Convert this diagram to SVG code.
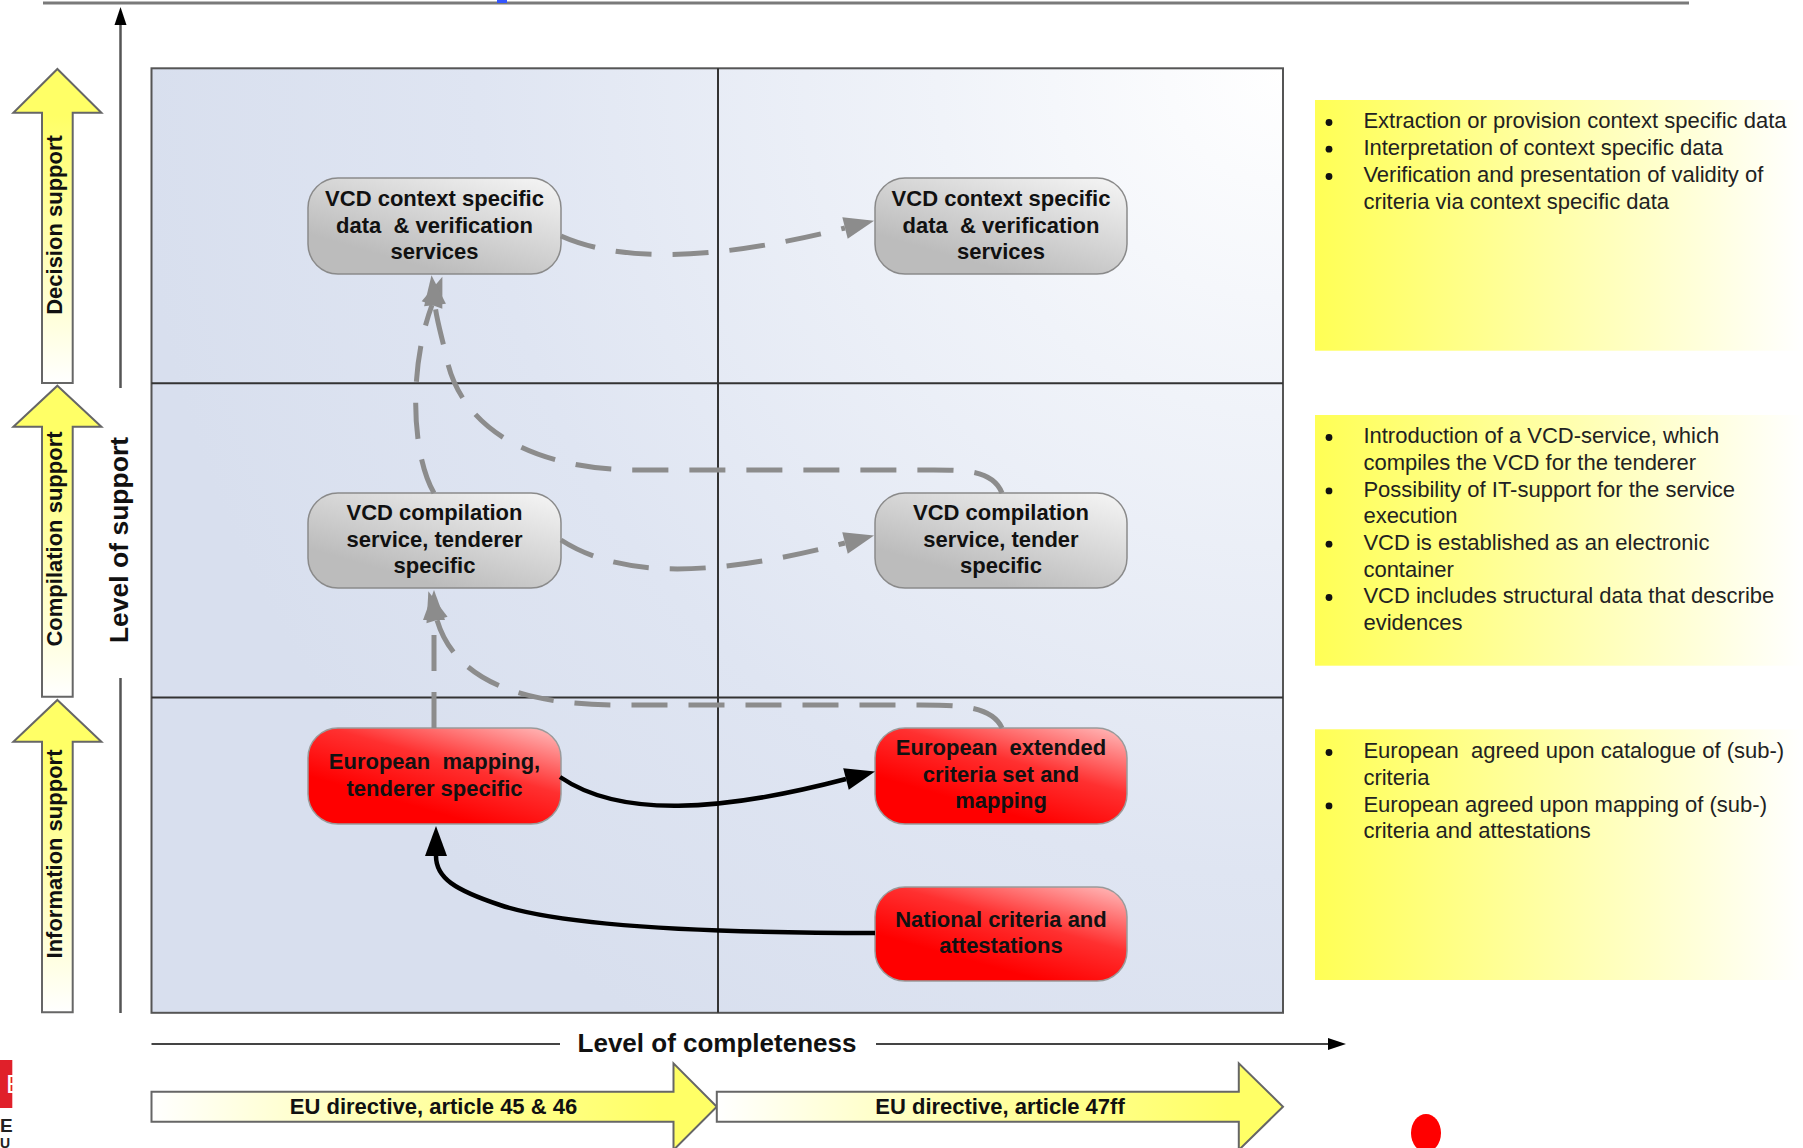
<svg xmlns="http://www.w3.org/2000/svg" width="1803" height="1148" viewBox="0 0 1803 1148">
<defs>
  <radialGradient id="gridBg" gradientUnits="userSpaceOnUse" cx="1283" cy="68" r="1150">
    <stop offset="0" stop-color="#ffffff"/>
    <stop offset="0.3" stop-color="#f0f3f9"/>
    <stop offset="0.7" stop-color="#dfe5f2"/>
    <stop offset="1" stop-color="#d8dfee"/>
  </radialGradient>
  <linearGradient id="grayNode" x1="1" y1="0" x2="0.35" y2="0.85">
    <stop offset="0" stop-color="#f6f6f6"/>
    <stop offset="1" stop-color="#bcbcbc"/>
  </linearGradient>
  <linearGradient id="redNode" x1="1" y1="0" x2="0.4" y2="0.8">
    <stop offset="0" stop-color="#ffc0c0"/>
    <stop offset="0.55" stop-color="#ff3030"/>
    <stop offset="1" stop-color="#ff0000"/>
  </linearGradient>
  <linearGradient id="yellowUp" x1="0" y1="1" x2="0" y2="0">
    <stop offset="0" stop-color="#ffffff"/>
    <stop offset="0.5" stop-color="#ffffa8"/>
    <stop offset="0.85" stop-color="#ffff66"/>
    <stop offset="1" stop-color="#ffff66"/>
  </linearGradient>
  <linearGradient id="yellowRight" x1="0" y1="0" x2="1" y2="0">
    <stop offset="0" stop-color="#ffffff"/>
    <stop offset="0.5" stop-color="#ffffa0"/>
    <stop offset="0.9" stop-color="#ffff66"/>
    <stop offset="1" stop-color="#ffff66"/>
  </linearGradient>
  <linearGradient id="noteBg" x1="0" y1="0" x2="1" y2="0">
    <stop offset="0" stop-color="#ffff55"/>
    <stop offset="0.5" stop-color="#ffffaa"/>
    <stop offset="1" stop-color="#ffffff"/>
  </linearGradient>
  <marker id="grayHead" markerUnits="userSpaceOnUse" markerWidth="30" markerHeight="22" refX="0" refY="11" orient="auto" overflow="visible">
    <path d="M0,0 L30,11 L0,22 z" fill="#8c8c8c"/>
  </marker>
  <marker id="blackHead" markerUnits="userSpaceOnUse" markerWidth="30" markerHeight="22" refX="0" refY="11" orient="auto" overflow="visible">
    <path d="M0,0 L30,11 L0,22 z" fill="#000000"/>
  </marker>
  <marker id="axisHead" markerUnits="userSpaceOnUse" markerWidth="18" markerHeight="12" refX="0" refY="6" orient="auto" overflow="visible">
    <path d="M0,0 L18,6 L0,12 z" fill="#000000"/>
  </marker>
</defs>
<style>
  text { font-family: "Liberation Sans", Arial, sans-serif; }
  .nodeText { font-size: 22px; font-weight: bold; fill: #111; text-anchor: middle; }
  .sideText { font-size: 22px; font-weight: bold; fill: #111; text-anchor: middle; }
  .noteText { font-size: 22px; fill: #222; }
  .axisText { font-weight: bold; fill: #111; text-anchor: middle; }
  .grayBox { fill: url(#grayNode); stroke: #8a8a8a; stroke-width: 1.5; }
  .redBox { fill: url(#redNode); stroke: #9a9a9a; stroke-width: 1.5; }
  .yArrow { stroke: #666; stroke-width: 2; }
  .dash { fill: none; stroke: #8c8c8c; stroke-width: 5; stroke-dasharray: 36 21; marker-end: url(#grayHead); }
  .solid { fill: none; stroke: #000; stroke-width: 4.5; marker-end: url(#blackHead); }
  .note { fill: url(#noteBg); }
  .bullet { fill: #111; }
</style>

<g id="frame">
  <line x1="43" y1="3" x2="1689" y2="3" stroke="#7a7a7a" stroke-width="3"/>
  <rect x="497" y="0" width="10" height="3" fill="#3355ff"/>
</g>

<g id="grid">
  <rect x="151.5" y="68.3" width="1131.5" height="944.5" fill="url(#gridBg)" stroke="#555" stroke-width="2"/>
  <line x1="718" y1="68.3" x2="718" y2="1012.8" stroke="#333" stroke-width="2"/>
  <line x1="151.5" y1="383.3" x2="1283" y2="383.3" stroke="#333" stroke-width="2"/>
  <line x1="151.5" y1="697.5" x2="1283" y2="697.5" stroke="#333" stroke-width="2"/>
</g>

<g id="side-decision">
  <polygon class="yArrow" fill="url(#yellowUp)" points="57.4,69 101.4,112.7 72.7,112.7 72.7,383 42,383 42,112.7 13.4,112.7"/>
  <text class="sideText" transform="translate(62.4,225) rotate(-90)">Decision support</text>
</g>
<g id="side-compilation">
  <polygon class="yArrow" fill="url(#yellowUp)" points="57.4,385.7 101.4,426.7 72.7,426.7 72.7,696.7 42,696.7 42,426.7 13.4,426.7"/>
  <text class="sideText" transform="translate(62.4,539) rotate(-90)">Compilation support</text>
</g>
<g id="side-information">
  <polygon class="yArrow" fill="url(#yellowUp)" points="57.4,700 101.4,741.7 72.7,741.7 72.7,1012.3 42,1012.3 42,741.7 13.4,741.7"/>
  <text class="sideText" transform="translate(62.4,854) rotate(-90)">Information support</text>
</g>

<g id="axis-support">
  <line x1="120.5" y1="388" x2="120.5" y2="25" stroke="#555" stroke-width="2.5" marker-end="url(#axisHead)"/>
  <line x1="120.5" y1="678" x2="120.5" y2="1013" stroke="#555" stroke-width="2.5"/>
  <text class="axisText" font-size="26.5" transform="translate(128,540) rotate(-90)">Level of support</text>
</g>

<g id="axis-completeness">
  <line x1="151.5" y1="1044" x2="560" y2="1044" stroke="#444" stroke-width="2"/>
  <line x1="876" y1="1044" x2="1328" y2="1044" stroke="#444" stroke-width="2" marker-end="url(#axisHead)"/>
  <text class="axisText" font-size="26" x="717" y="1052">Level of completeness</text>
</g>

<g id="node-vcd-context-left">
  <rect class="grayBox" x="308" y="178" width="253" height="96" rx="30" ry="30"/>
  <text class="nodeText" x="434.5" y="206">VCD context specific</text>
  <text class="nodeText" x="434.5" y="232.5" xml:space="preserve">data  &amp; verification</text>
  <text class="nodeText" x="434.5" y="259">services</text>
</g>
<g id="node-vcd-context-right">
  <rect class="grayBox" x="875" y="178" width="252" height="96" rx="30" ry="30"/>
  <text class="nodeText" x="1001" y="206">VCD context specific</text>
  <text class="nodeText" x="1001" y="232.5" xml:space="preserve">data  &amp; verification</text>
  <text class="nodeText" x="1001" y="259">services</text>
</g>
<g id="node-vcd-compilation-left">
  <rect class="grayBox" x="308" y="493" width="253" height="95" rx="30" ry="30"/>
  <text class="nodeText" x="434.5" y="520">VCD compilation</text>
  <text class="nodeText" x="434.5" y="546.7">service, tenderer</text>
  <text class="nodeText" x="434.5" y="573.3">specific</text>
</g>
<g id="node-vcd-compilation-right">
  <rect class="grayBox" x="875" y="493" width="252" height="95" rx="30" ry="30"/>
  <text class="nodeText" x="1001" y="520">VCD compilation</text>
  <text class="nodeText" x="1001" y="546.7">service, tender</text>
  <text class="nodeText" x="1001" y="573.3">specific</text>
</g>
<g id="node-european-mapping">
  <rect class="redBox" x="308" y="728" width="253" height="96" rx="30" ry="30"/>
  <text class="nodeText" x="434.5" y="768.5" xml:space="preserve">European  mapping,</text>
  <text class="nodeText" x="434.5" y="795.5">tenderer specific</text>
</g>
<g id="node-european-extended">
  <rect class="redBox" x="875" y="728" width="252" height="96" rx="30" ry="30"/>
  <text class="nodeText" x="1001" y="755" xml:space="preserve">European  extended</text>
  <text class="nodeText" x="1001" y="781.7">criteria set and</text>
  <text class="nodeText" x="1001" y="808.3">mapping</text>
</g>
<g id="node-national">
  <rect class="redBox" x="875" y="887" width="252" height="94" rx="30" ry="30"/>
  <text class="nodeText" x="1001" y="926.7">National criteria and</text>
  <text class="nodeText" x="1001" y="953.3">attestations</text>
</g>

<g id="connectors">
  <path class="dash" d="M561,236 C620,262 710,262 845,228"/>
  <path class="dash" d="M561,540 C620,578 710,578 845,543"/>
  <path class="dash" d="M434,493 C412,455 408,370 432,305"/>
  <path class="dash" d="M1002,493 C992,468 960,470 920,470 L640,470 C520,470 460,420 447,360 C442,337 437,322 435,305"/>
  <path class="dash" d="M434,728 L434,620"/>
  <path class="dash" d="M1002,728 C992,706 960,705 920,705 L620,705 C520,705 455,680 437,620"/>
  <path class="solid" d="M560,777 C620,818 720,812 846,779"/>
  <path class="solid" d="M875,933 C700,933 560,925 500,905 C455,890 436,878 436,856"/>
</g>

<g id="note-decision">
  <rect class="note" x="1315" y="100" width="488" height="250.7"/>
  <circle class="bullet" cx="1329" cy="122.5" r="3.4"/>
  <circle class="bullet" cx="1329" cy="149.2" r="3.4"/>
  <circle class="bullet" cx="1329" cy="176.5" r="3.4"/>
  <text class="noteText" x="1363.4" y="128.3">Extraction or provision context specific data</text>
  <text class="noteText" x="1363.4" y="155">Interpretation of context specific data</text>
  <text class="noteText" x="1363.4" y="182.3">Verification and presentation of validity of</text>
  <text class="noteText" x="1363.4" y="209">criteria via context specific data</text>
</g>
<g id="note-compilation">
  <rect class="note" x="1315" y="415" width="488" height="250.7"/>
  <circle class="bullet" cx="1329" cy="437.5" r="3.4"/>
  <circle class="bullet" cx="1329" cy="490.9" r="3.4"/>
  <circle class="bullet" cx="1329" cy="544.2" r="3.4"/>
  <circle class="bullet" cx="1329" cy="597.5" r="3.4"/>
  <text class="noteText" x="1363.4" y="443.3">Introduction of a VCD-service, which</text>
  <text class="noteText" x="1363.4" y="470">compiles the VCD for the tenderer</text>
  <text class="noteText" x="1363.4" y="496.7">Possibility of IT-support for the service</text>
  <text class="noteText" x="1363.4" y="523.3">execution</text>
  <text class="noteText" x="1363.4" y="550">VCD is established as an electronic</text>
  <text class="noteText" x="1363.4" y="576.7">container</text>
  <text class="noteText" x="1363.4" y="603.3">VCD includes structural data that describe</text>
  <text class="noteText" x="1363.4" y="630">evidences</text>
</g>
<g id="note-information">
  <rect class="note" x="1315" y="729.3" width="488" height="250.7"/>
  <circle class="bullet" cx="1329" cy="752.5" r="3.4"/>
  <circle class="bullet" cx="1329" cy="805.9" r="3.4"/>
  <text class="noteText" x="1363.4" y="758.3" xml:space="preserve">European  agreed upon catalogue of (sub-)</text>
  <text class="noteText" x="1363.4" y="785">criteria</text>
  <text class="noteText" x="1363.4" y="811.7">European agreed upon mapping of (sub-)</text>
  <text class="noteText" x="1363.4" y="838.3">criteria and attestations</text>
</g>

<g id="directive-45-46">
  <polygon class="yArrow" fill="url(#yellowRight)" points="151.5,1091.7 673.5,1091.7 673.5,1063.3 716.8,1106.7 673.5,1150 673.5,1121.7 151.5,1121.7"/>
  <text class="nodeText" x="433.5" y="1113.5">EU directive, article 45 &amp; 46</text>
</g>
<g id="directive-47ff">
  <polygon class="yArrow" fill="url(#yellowRight)" points="716.8,1091.7 1238.8,1091.7 1238.8,1063.3 1283,1106.7 1238.8,1150 1238.8,1121.7 716.8,1121.7"/>
  <text class="nodeText" x="1000" y="1113.5">EU directive, article 47ff</text>
</g>

<ellipse cx="1426" cy="1133" rx="15" ry="19" fill="#ff0000"/>

<g id="logo">
  <rect x="0" y="1060" width="12.3" height="48" fill="#e0202a"/>
  <text x="6" y="1093" font-size="26" fill="#ffffff">E</text>
  <text x="0" y="1132" font-size="19" font-weight="bold" fill="#222">E</text>
  <text x="0" y="1147.5" font-size="14" font-weight="bold" fill="#222">U</text>
</g>
</svg>
